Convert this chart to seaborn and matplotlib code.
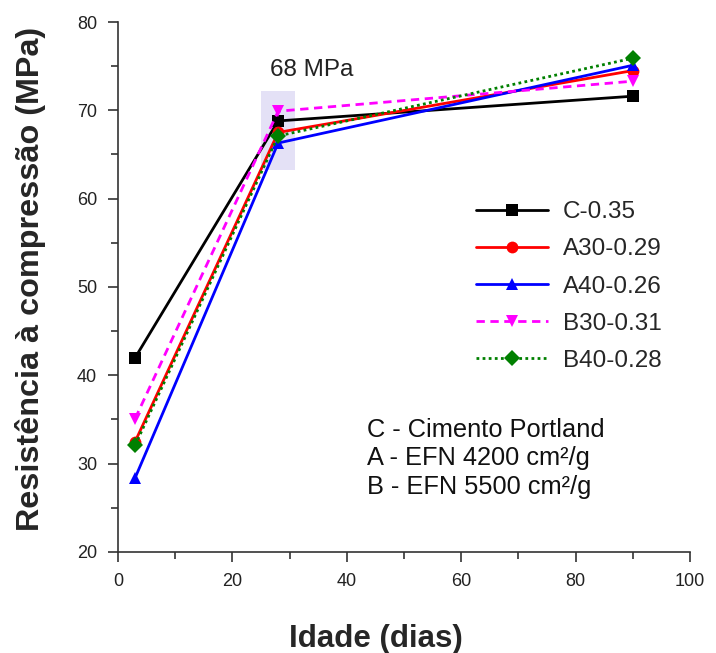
import matplotlib
matplotlib.use("Agg")
import matplotlib.pyplot as plt
import seaborn as sns
import pandas as pd

days = [3, 28, 90]
series_names = ["C-0.35", "A30-0.29", "A40-0.26", "B30-0.31", "B40-0.28"]
c_035 = [42.0, 68.8, 71.6]
a30_029 = [32.5, 67.5, 74.5]
a40_026 = [28.4, 66.3, 75.1]
b30_031 = [35.1, 69.9, 73.3]
b40_028 = [32.1, 67.1, 75.9]
x_ticks = [0, 20, 40, 60, 80, 100]
y_ticks = [20, 30, 40, 50, 60, 70, 80]
note_lines = ["C - Cimento Portland", "A - EFN 4200 cm²/g", "B - EFN 5500 cm²/g"]

values = [c_035, a30_029, a40_026, b30_031, b40_028]
rows = []
for name, vals in zip(series_names, values):
    for d, v in zip(days, vals):
        rows.append({"Idade": d, "Resistencia": v, "Serie": name})
df = pd.DataFrame(rows)

sns.set_style("ticks")
plt.rcParams["font.family"] = ["Liberation Sans", "DejaVu Sans"]

fig = plt.figure(figsize=(7.16, 6.53), dpi=100)
ax = fig.add_axes([0.1648, 0.1547, 0.7989, 0.8116])

palette = {"C-0.35": "black", "A30-0.29": "red", "A40-0.26": "blue",
           "B30-0.31": "magenta", "B40-0.28": "green"}
markers = {"C-0.35": "s", "A30-0.29": "o", "A40-0.26": "^",
           "B30-0.31": "v", "B40-0.28": "D"}
dashes = {"C-0.35": "", "A30-0.29": "", "A40-0.26": "",
          "B30-0.31": (3, 2), "B40-0.28": (1, 1.2)}

# highlight region
ax.fill_between([25, 31], 63.3, 72.2, color="#e4e1f6", zorder=0, linewidth=0)

sns.lineplot(data=df, x="Idade", y="Resistencia", hue="Serie", style="Serie",
             hue_order=series_names, style_order=series_names,
             palette=palette, markers=markers, dashes=dashes,
             linewidth=2.0, markersize=8.5, markeredgewidth=0, ax=ax)

ax.set_xlim(0, 100)
ax.set_ylim(20, 80)
ax.set_xticks(x_ticks)
ax.set_yticks(y_ticks)
ax.set_xticks([10, 30, 50, 70, 90], minor=True)
ax.set_yticks([25, 35, 45, 55, 65, 75], minor=True)
ax.tick_params(axis="both", which="major", direction="out", length=7, width=1.2,
               labelsize=13, colors="#333333", labelcolor="#222222", pad=8)
ax.tick_params(axis="both", which="minor", direction="out", length=5, width=1.2,
               colors="#333333")
for s in ["top", "right"]:
    ax.spines[s].set_visible(False)
for s in ["left", "bottom"]:
    ax.spines[s].set_color("#333333")
    ax.spines[s].set_linewidth(1.2)

ax.set_xlabel("Idade (dias)", fontsize=22.5, fontweight="bold")
ax.set_ylabel("Resistência à compressão (MPa)", fontsize=23.3, fontweight="bold")
ax.xaxis.set_label_coords(0.45, -0.135)
ax.yaxis.set_label_coords(-0.126, 0.515)

ax.text(33.9, 74.6, "68 MPa", fontsize=17.5, ha="center", va="center", color="#222222")

ax.text(43.5, 35.2, "\n".join(note_lines), fontsize=18.3, ha="left", va="top",
        linespacing=1.25, color="#111111")

handles, labels = ax.get_legend_handles_labels()
leg = ax.legend(handles, labels, loc="upper left", bbox_to_anchor=(0.608, 0.68),
                frameon=False, fontsize=17.5, handlelength=3.0, handletextpad=0.6,
                labelspacing=0.62, borderaxespad=0)

fig.savefig("out.png", dpi=100)
